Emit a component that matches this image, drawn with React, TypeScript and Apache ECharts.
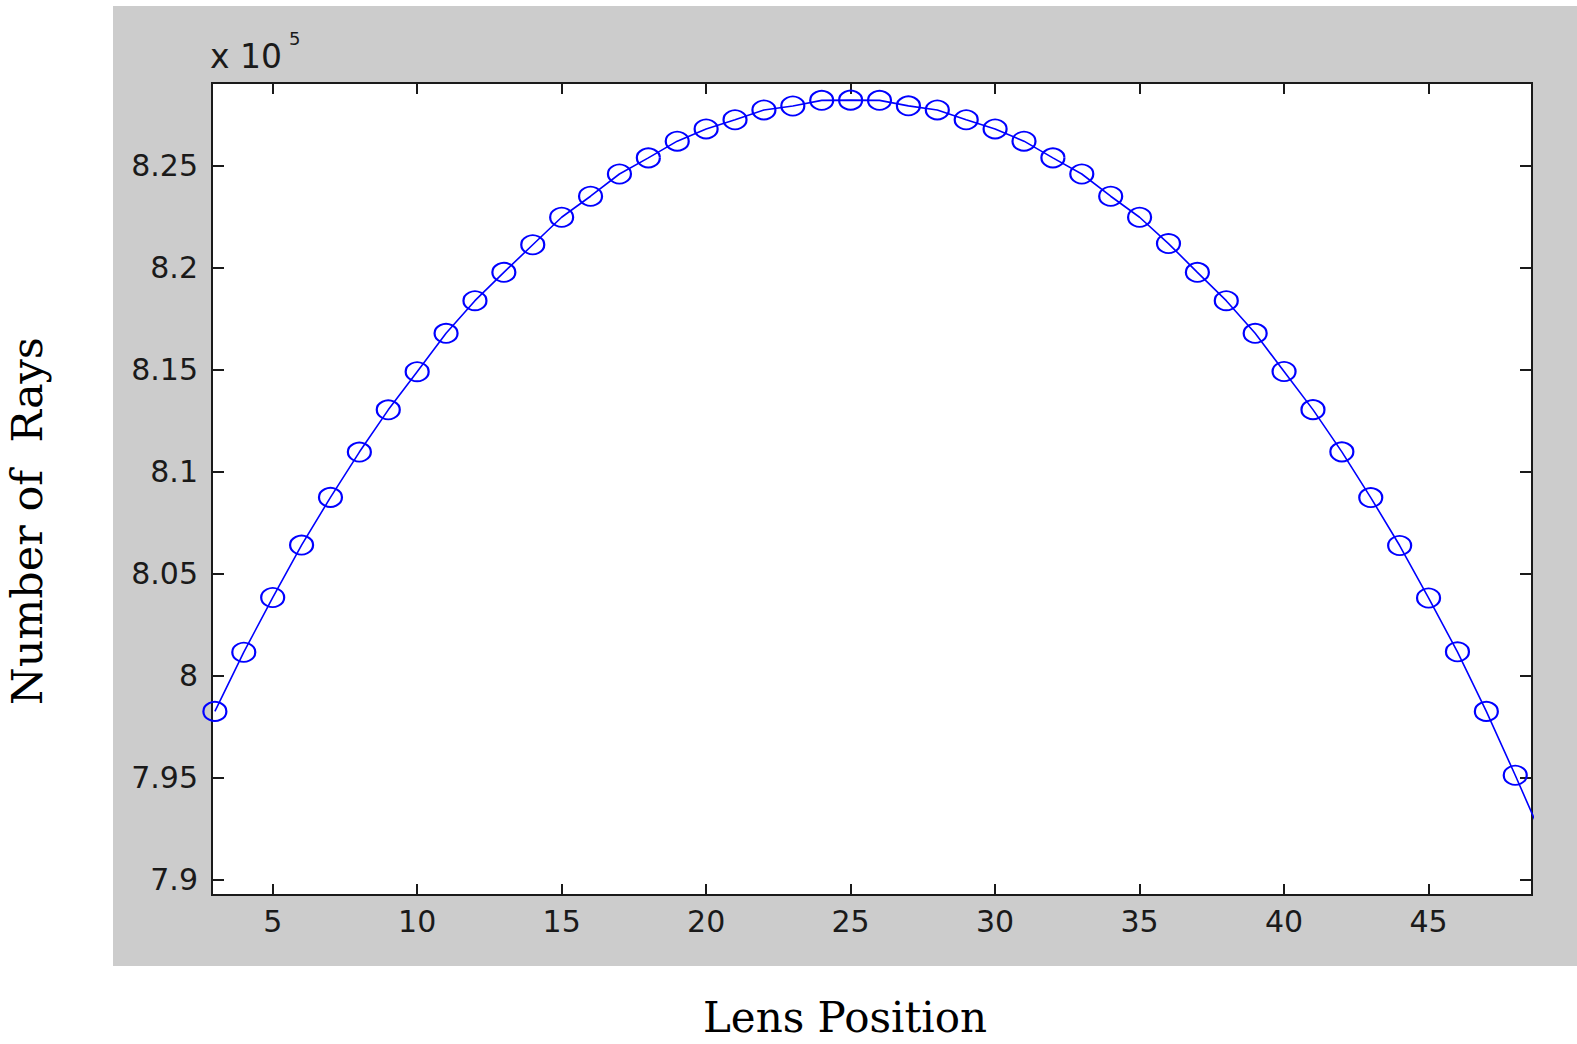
import React, { useEffect, useRef } from "react";
import * as echarts from "echarts";

// Lens position (x) and number of rays (in units of 10^5)
const lensPositions = [3, 4, 5, 6, 7, 8, 9, 10, 11, 12, 13, 14, 15, 16, 17, 18, 19, 20, 21, 22, 23, 24, 25, 26, 27, 28, 29, 30, 31, 32, 33, 34, 35, 36, 37, 38, 39, 40, 41, 42, 43, 44, 45, 46, 47, 48, 49];
const raysE5 = [
  7.9825, 8.0115, 8.0383, 8.0640, 8.0874, 8.1096, 8.1303, 8.1490, 8.1678, 8.1838,
  8.1977, 8.2112, 8.2247, 8.2350, 8.2459, 8.2538, 8.2620, 8.2680, 8.2725, 8.2773,
  8.2792, 8.2820, 8.2821, 8.2820, 8.2793, 8.2773, 8.2725, 8.2680, 8.2620, 8.2538,
  8.2459, 8.2350, 8.2247, 8.2118, 8.1977, 8.1838, 8.1678, 8.1491, 8.1304, 8.1097,
  8.0873, 8.0638, 8.0381, 8.0117, 7.9825, 7.9512, 7.9190,
];

const xMin = 2.9;
const xMax = 48.58;
const yMin = 7.8925;
const yMax = 8.2905;
const xStep = 5;
const yStep = 0.05;

const xAxisTitle = "Lens Position";
const yAxisTitle = "Number of  Rays";

export default function App() {
  const ref = useRef<HTMLDivElement>(null);

  useEffect(() => {
    if (!ref.current) return;
    const chart = echarts.init(ref.current, undefined, { renderer: "svg" });
    const data = lensPositions.map((x, i) => [x, raysE5[i]]);
    const tickFont = "DejaVu Sans";
    const common = {
      axisLine: { show: false },
      splitLine: { show: false },
    };
    chart.setOption({
      animation: false,
      backgroundColor: "#ffffff",
      graphic: [
        {
          type: "rect",
          z: -10,
          silent: true,
          shape: { x: 113, y: 6, width: 1464, height: 960 },
          style: { fill: "#cccccc" },
        },
        {
          type: "text",
          x: 210,
          y: 56,
          style: {
            text: "x 10",
            font: `33px "${tickFont}"`,
            fill: "#1a1a1a",
            textAlign: "left",
            textVerticalAlign: "middle",
          },
        },
        {
          type: "text",
          x: 289,
          y: 38,
          style: {
            text: "5",
            font: `18px "${tickFont}"`,
            fill: "#1a1a1a",
            textAlign: "left",
            textVerticalAlign: "middle",
          },
        },
        {
          type: "text",
          x: 845,
          y: 1017,
          style: {
            text: xAxisTitle,
            font: `42px "DejaVu Serif"`,
            fill: "#000000",
            textAlign: "center",
            textVerticalAlign: "middle",
          },
        },
        {
          type: "text",
          x: 27,
          y: 521,
          rotation: Math.PI / 2,
          style: {
            text: yAxisTitle,
            font: `43px "DejaVu Serif"`,
            fill: "#000000",
            textAlign: "center",
            textVerticalAlign: "middle",
          },
        },
      ],
      grid: {
        show: true,
        left: 212,
        top: 83,
        right: 45,
        bottom: 149,
        backgroundColor: "#ffffff",
        borderColor: "#1a1a1a",
        borderWidth: 2,
        containLabel: false,
      },
      xAxis: [
        {
          type: "value",
          position: "bottom",
          min: xMin,
          max: xMax,
          splitNumber: 9,
          minInterval: xStep,
          maxInterval: xStep,
          ...common,
          axisTick: { show: true, inside: true, length: 11, lineStyle: { color: "#1a1a1a", width: 2 } },
          axisLabel: {
            show: true,
            margin: 11,
            showMinLabel: false,
            showMaxLabel: false,
            fontFamily: tickFont,
            fontSize: 30,
            color: "#1a1a1a",
          },
        },
        {
          type: "value",
          position: "top",
          min: xMin,
          max: xMax,
          splitNumber: 9,
          minInterval: xStep,
          maxInterval: xStep,
          ...common,
          axisTick: { show: true, inside: true, length: 11, lineStyle: { color: "#1a1a1a", width: 2 } },
          axisLabel: { show: false },
        },
      ],
      yAxis: [
        {
          type: "value",
          position: "left",
          min: yMin,
          max: yMax,
          splitNumber: 8,
          minInterval: yStep,
          maxInterval: yStep,
          ...common,
          axisTick: { show: true, inside: true, length: 12, lineStyle: { color: "#1a1a1a", width: 2 } },
          axisLabel: {
            show: true,
            margin: 14,
            showMinLabel: false,
            showMaxLabel: false,
            fontFamily: tickFont,
            fontSize: 30,
            color: "#1a1a1a",
          },
        },
        {
          type: "value",
          position: "right",
          min: yMin,
          max: yMax,
          splitNumber: 8,
          minInterval: yStep,
          maxInterval: yStep,
          ...common,
          axisTick: { show: true, inside: true, length: 12, lineStyle: { color: "#1a1a1a", width: 2 } },
          axisLabel: { show: false },
        },
      ],
      series: [
        {
          type: "line",
          xAxisIndex: 0,
          yAxisIndex: 0,
          data,
          clip: true,
          symbol: "circle",
          symbolSize: [23, 19],
          showAllSymbol: true,
          lineStyle: { color: "#0000ff", width: 1.6 },
          itemStyle: { color: "rgba(0,0,0,0)", borderColor: "#0000ff", borderWidth: 2 },
          emphasis: { disabled: true },
        },
      ],
    });
    return () => chart.dispose();
  }, []);

  return (
    <div
      ref={ref}
      style={{ position: "absolute", left: 0, top: 0, width: 1577, height: 1044 }}
    />
  );
}
